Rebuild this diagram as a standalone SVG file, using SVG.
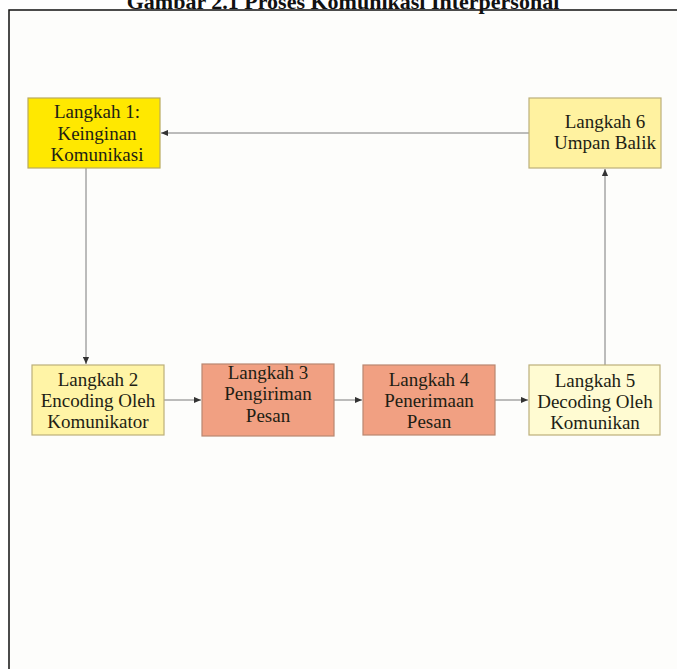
<svg xmlns="http://www.w3.org/2000/svg" width="677" height="669" viewBox="0 0 677 669">
<defs>
<style>
.box{stroke-width:1.2}
.t{font-family:"Liberation Serif","Times New Roman",serif;font-size:19px;fill:#1e1e14;text-anchor:middle}
.title{font-family:"Liberation Serif","Times New Roman",serif;font-size:22px;font-weight:bold;fill:#111;text-anchor:middle}
.c{stroke:#7a7a7a;stroke-width:1;fill:none;marker-end:url(#ah)}
</style>
<marker id="ah" viewBox="0 0 8 8" refX="8" refY="4" markerWidth="7" markerHeight="7" markerUnits="userSpaceOnUse" orient="auto">
<path d="M0,0.5 L8,4 L0,7.5 Z" fill="#333"/>
</marker>
</defs>
<rect x="0" y="0" width="677" height="669" fill="#ffffff"/>
<rect x="9" y="10" width="670" height="665" fill="#fdfdfb"/>
<path d="M9,669 V10 H677" stroke="#111" stroke-width="1.5" fill="none"/>
<text class="title" x="343" y="9">Gambar 2.1 Proses Komunikasi Interpersonal</text>

<g id="connectors">
<line class="c" x1="529" y1="133" x2="161" y2="133"/>
<line class="c" x1="86" y1="168" x2="86" y2="364"/>
<line class="c" x1="164" y1="400" x2="201" y2="400"/>
<line class="c" x1="334" y1="400" x2="362" y2="400"/>
<line class="c" x1="495" y1="400" x2="528" y2="400"/>
<line class="c" x1="605" y1="365" x2="605" y2="169"/>
</g>

<g id="step1">
<rect class="box" x="28" y="98" width="132" height="70" fill="#ffe800" stroke="#b9ab5e"/>
<text class="t" x="97" y="118">Langkah 1:</text>
<text class="t" x="97" y="140">Keinginan</text>
<text class="t" x="97" y="161">Komunikasi</text>
</g>
<g id="step6">
<rect class="box" x="529" y="98" width="132" height="70" fill="#fff2a0" stroke="#bcb07a"/>
<text class="t" x="605" y="128">Langkah 6</text>
<text class="t" x="605" y="149">Umpan Balik</text>
</g>
<g id="step2">
<rect class="box" x="32" y="365" width="132" height="70" fill="#fff4a6" stroke="#bcb07a"/>
<text class="t" x="98" y="386">Langkah 2</text>
<text class="t" x="98" y="407">Encoding Oleh</text>
<text class="t" x="98" y="428">Komunikator</text>
</g>
<g id="step3">
<rect class="box" x="202" y="364" width="132" height="72" fill="#f1a082" stroke="#b98770"/>
<text class="t" x="268" y="379">Langkah 3</text>
<text class="t" x="268" y="400">Pengiriman</text>
<text class="t" x="268" y="422">Pesan</text>
</g>
<g id="step4">
<rect class="box" x="363" y="365" width="132" height="70" fill="#f1a082" stroke="#b98770"/>
<text class="t" x="429" y="386">Langkah 4</text>
<text class="t" x="429" y="407">Penerimaan</text>
<text class="t" x="429" y="428">Pesan</text>
</g>
<g id="step5">
<rect class="box" x="529" y="365" width="131" height="70" fill="#fffbd2" stroke="#bcb07a"/>
<text class="t" x="595" y="387">Langkah 5</text>
<text class="t" x="595" y="408">Decoding Oleh</text>
<text class="t" x="595" y="429">Komunikan</text>
</g>
</svg>
